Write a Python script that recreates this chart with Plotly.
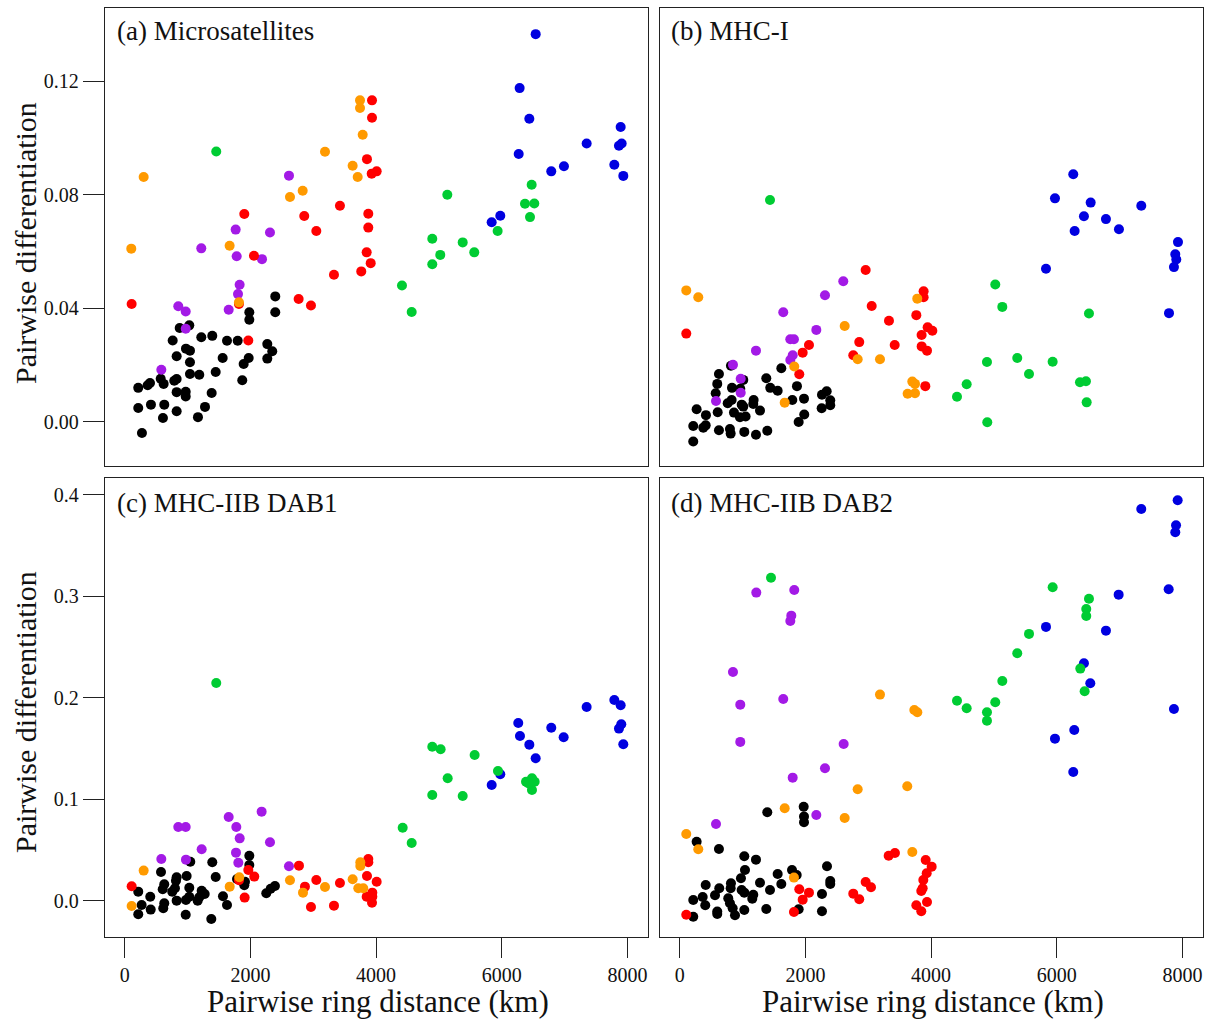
import plotly.graph_objects as go

# ---------------- Panel (a) Microsatellites ----------------
A_BLACK_KM = [2396, 2396, 1983, 1983, 1028, 875, 764, 1219, 1394, 1628, 1798, 2269, 2348, 2269, 975, 1039, 827, 1559, 1973, 1893, 1039, 1448, 1039, 1187, 573, 827, 789, 1871, 403, 366, 620, 216, 827, 971, 971, 1384, 418, 630, 216, 1278, 827, 609, 1166, 275]
A_BLACK_FST = [0.0442, 0.0386, 0.0386, 0.0360, 0.0340, 0.0331, 0.0287, 0.0298, 0.0303, 0.0286, 0.0286, 0.0274, 0.0249, 0.0223, 0.0258, 0.0251, 0.0231, 0.0225, 0.0225, 0.0204, 0.0210, 0.0176, 0.0169, 0.0166, 0.0152, 0.0151, 0.0145, 0.0147, 0.0137, 0.0129, 0.0134, 0.0120, 0.0105, 0.0106, 0.0090, 0.0102, 0.0061, 0.0061, 0.0049, 0.0053, 0.0038, 0.0014, 0.0017, -0.0039]
A_PURPLE_KM = [2614, 1766, 2312, 1219, 1782, 2185, 1829, 1803, 1655, 853, 971, 971, 583]
A_PURPLE_FST = [0.0867, 0.0677, 0.0667, 0.0611, 0.0583, 0.0573, 0.0483, 0.0450, 0.0395, 0.0407, 0.0389, 0.0328, 0.0184]
A_RED_KM = [3935, 3935, 3855, 4009, 3930, 3425, 3876, 2857, 1903, 3876, 3049, 2057, 3850, 3914, 3764, 3330, 111, 2768, 2964, 1818, 1967]
A_RED_FST = [0.1132, 0.1071, 0.0925, 0.0882, 0.0874, 0.0761, 0.0733, 0.0725, 0.0732, 0.0684, 0.0672, 0.0585, 0.0597, 0.0559, 0.0530, 0.0518, 0.0415, 0.0433, 0.0410, 0.0415, 0.0287]
A_ORANGE_KM = [3744, 3744, 3787, 3187, 3627, 3707, 302, 2832, 2630, 105, 1670, 1818]
A_ORANGE_FST = [0.1132, 0.1105, 0.1011, 0.0951, 0.0902, 0.0862, 0.0862, 0.0814, 0.0792, 0.0610, 0.0620, 0.0421]
A_BLUE_KM = [6539, 6284, 6438, 7891, 7350, 7907, 7864, 6269, 6989, 7790, 6787, 7933, 5976, 5839]
A_BLUE_FST = [0.1365, 0.1175, 0.1067, 0.1038, 0.0980, 0.0980, 0.0972, 0.0943, 0.0900, 0.0905, 0.0882, 0.0866, 0.0726, 0.0703]
A_GREEN_KM = [1457, 6475, 5133, 6369, 6517, 6449, 5934, 4894, 5378, 5021, 5562, 4894, 4412, 4566]
A_GREEN_FST = [0.0952, 0.0835, 0.0800, 0.0768, 0.0769, 0.0721, 0.0672, 0.0645, 0.0632, 0.0588, 0.0597, 0.0555, 0.0480, 0.0387]

# ---------------- Panel (b) MHC-I ----------------
B_BLACK_KM = [1617, 625, 816, 1378, 1012, 598, 1866, 832, 964, 1441, 1559, 573, 2339, 2264, 1978, 1792, 1177, 764, 827, 2396, 2396, 987, 1012, 1171, 270, 864, 605, 1278, 2259, 418, 959, 1049, 1982, 1893, 216, 376, 414, 625, 800, 811, 1028, 1214, 1394, 216]
B_BLACK_FST = [0.0189, 0.0169, 0.0198, 0.0154, 0.0148, 0.0134, 0.0126, 0.0120, 0.0117, 0.0120, 0.0110, 0.0101, 0.0108, 0.0096, 0.0082, 0.0077, 0.0077, 0.0066, 0.0077, 0.0076, 0.0059, 0.0061, 0.0054, 0.0063, 0.0045, 0.0033, 0.0034, 0.0040, 0.0048, 0.0024, 0.0017, 0.0019, 0.0026, 0.0000, -0.0014, -0.0020, -0.0012, -0.0029, -0.0025, -0.0041, -0.0035, -0.0045, -0.0031, -0.0069]
B_PURPLE_KM = [2603, 2312, 1648, 2174, 1760, 1818, 1214, 1798, 1760, 848, 971, 971, 578]
B_PURPLE_FST = [0.0495, 0.0446, 0.0386, 0.0324, 0.0291, 0.0291, 0.0251, 0.0235, 0.0218, 0.0201, 0.0152, 0.0103, 0.0074]
B_RED_KM = [2959, 3881, 3881, 3055, 3765, 3330, 3945, 4020, 3849, 105, 2857, 2057, 3421, 3850, 3935, 1957, 2762, 1903, 3908]
B_RED_FST = [0.0535, 0.0460, 0.0439, 0.0408, 0.0376, 0.0356, 0.0333, 0.0321, 0.0306, 0.0311, 0.0281, 0.0271, 0.0271, 0.0266, 0.0251, 0.0244, 0.0235, 0.0168, 0.0126]
B_ORANGE_KM = [105, 296, 3780, 2625, 2832, 3187, 1823, 3701, 3744, 3627, 3744, 1671]
B_ORANGE_FST = [0.0463, 0.0439, 0.0434, 0.0338, 0.0221, 0.0221, 0.0195, 0.0142, 0.0134, 0.0099, 0.0101, 0.0068]
B_BLUE_KM = [6262, 5971, 6539, 7344, 6432, 6782, 6989, 6284, 7928, 7885, 7901, 7864, 5828, 7785]
B_BLUE_FST = [0.0872, 0.0787, 0.0772, 0.0761, 0.0724, 0.0714, 0.0678, 0.0672, 0.0633, 0.0590, 0.0572, 0.0545, 0.0539, 0.0383]
B_GREEN_KM = [1437, 5021, 5133, 6512, 4889, 5371, 5934, 5558, 6369, 6464, 4566, 4412, 6475, 4894]
B_GREEN_FST = [0.0781, 0.0484, 0.0405, 0.0382, 0.0211, 0.0225, 0.0212, 0.0169, 0.0140, 0.0143, 0.0133, 0.0089, 0.0069, -0.0001]

# ---------------- Panel (c) MHC-IIB DAB1 ----------------
C_BLACK_KM = [1983, 1044, 1394, 1983, 578, 986, 827, 816, 1448, 1787, 1914, 630, 605, 1028, 1028, 800, 757, 216, 1225, 1273, 1187, 1903, 2391, 2323, 2253, 407, 270, 1564, 827, 975, 1161, 630, 614, 1628, 414, 216, 971, 1378]
C_BLACK_FST = [0.0446, 0.0387, 0.0381, 0.0355, 0.0286, 0.0246, 0.0233, 0.0200, 0.0236, 0.0217, 0.0190, 0.0165, 0.0115, 0.0131, 0.0042, 0.0125, 0.0092, 0.0092, 0.0101, 0.0069, 0.0036, 0.0155, 0.0148, 0.0121, 0.0076, 0.0042, -0.0039, 0.0046, 0.0003, 0.0010, 0.0003, -0.0023, -0.0072, -0.0039, -0.0085, -0.0131, -0.0135, -0.0177]
C_PURPLE_KM = [2179, 1655, 853, 971, 1776, 1830, 2312, 1225, 1771, 583, 975, 1808, 2614]
C_PURPLE_FST = [0.0880, 0.0828, 0.0729, 0.0729, 0.0729, 0.0617, 0.0578, 0.0509, 0.0476, 0.0414, 0.0407, 0.0377, 0.0342]
C_RED_KM = [3876, 3876, 2773, 1967, 2062, 3855, 4009, 3049, 3425, 111, 2868, 1818, 3940, 3850, 3940, 3935, 1909, 2964, 3330]
C_RED_FST = [0.0414, 0.0381, 0.0348, 0.0305, 0.0240, 0.0246, 0.0190, 0.0207, 0.0177, 0.0145, 0.0141, 0.0204, 0.0082, 0.0042, 0.0042, -0.0017, 0.0033, -0.0059, -0.0046]
C_ORANGE_KM = [302, 3749, 3749, 1823, 2630, 3627, 1671, 3187, 3717, 3796, 2837, 111]
C_ORANGE_FST = [0.0299, 0.0381, 0.0345, 0.0233, 0.0204, 0.0214, 0.0141, 0.0138, 0.0125, 0.0125, 0.0082, -0.0049]
C_BLUE_KM = [7790, 7891, 7350, 6262, 7901, 7864, 6787, 6289, 6984, 6438, 7933, 6539, 5976, 5839]
C_BLUE_FST = [0.1980, 0.1928, 0.1911, 0.1754, 0.1741, 0.1698, 0.1707, 0.1626, 0.1613, 0.1540, 0.1544, 0.1406, 0.1248, 0.1143]
C_GREEN_KM = [1457, 4894, 5027, 5568, 5939, 5139, 6385, 6480, 6523, 6480, 6421, 4894, 5378, 4423, 4566]
C_GREEN_FST = [0.2148, 0.1520, 0.1495, 0.1438, 0.1281, 0.1209, 0.1175, 0.1209, 0.1175, 0.1094, 0.1160, 0.1044, 0.1034, 0.0722, 0.0571]

# ---------------- Panel (d) MHC-IIB DAB2 ----------------
D_BLACK_KM = [1394, 1973, 1978, 1978, 270, 625, 1028, 1214, 1039, 1787, 1862, 2344, 1559, 975, 1278, 1617, 2396, 2396, 414, 630, 562, 816, 811, 986, 1028, 1171, 1155, 1437, 366, 407, 216, 773, 800, 843, 880, 598, 598, 1028, 1378, 2264, 2264, 1893, 216]
D_BLACK_FST = [0.0874, 0.0929, 0.0831, 0.0775, 0.0584, 0.0512, 0.0440, 0.0407, 0.0305, 0.0305, 0.0256, 0.0342, 0.0266, 0.0224, 0.0180, 0.0167, 0.0197, 0.0167, 0.0158, 0.0125, 0.0056, 0.0174, 0.0125, 0.0108, 0.0082, 0.0062, 0.0023, 0.0108, 0.0039, -0.0042, 0.0010, 0.0027, -0.0023, -0.0072, -0.0141, -0.0105, -0.0128, -0.0089, -0.0079, 0.0069, -0.0101, -0.0082, -0.0155]
D_PURPLE_KM = [1219, 1823, 1776, 1760, 848, 1648, 964, 964, 2609, 2312, 1798, 2174, 578]
D_PURPLE_FST = [0.3038, 0.3064, 0.2811, 0.2759, 0.2256, 0.1990, 0.1934, 0.1567, 0.1547, 0.1307, 0.1215, 0.0847, 0.0759]
D_RED_KM = [3325, 3425, 3914, 4009, 3930, 3876, 3866, 3844, 3935, 3765, 3844, 2959, 3044, 2762, 2857, 1903, 2057, 1957, 1818, 105]
D_RED_FST = [0.0446, 0.0473, 0.0404, 0.0338, 0.0273, 0.0207, 0.0125, 0.0099, -0.0010, -0.0042, -0.0101, 0.0187, 0.0135, 0.0072, 0.0017, 0.0115, 0.0082, 0.0013, -0.0108, -0.0135]
D_ORANGE_KM = [3187, 3733, 3781, 2832, 3621, 1671, 2625, 105, 296, 3701, 1818]
D_ORANGE_FST = [0.2033, 0.1882, 0.1859, 0.1100, 0.1130, 0.0913, 0.0818, 0.0660, 0.0509, 0.0483, 0.0230]
D_BLUE_KM = [7923, 7344, 7897, 7885, 7780, 6984, 5828, 6782, 6432, 6533, 7864, 6278, 5971, 6262]
D_BLUE_FST = [0.3948, 0.3862, 0.3701, 0.3632, 0.3071, 0.3018, 0.2700, 0.2663, 0.2342, 0.2145, 0.1892, 0.1685, 0.1599, 0.1271]
D_GREEN_KM = [1453, 5934, 6512, 6469, 6469, 5558, 5371, 6374, 5133, 6443, 4412, 4566, 5021, 4889, 4889]
D_GREEN_FST = [0.3185, 0.3091, 0.2978, 0.2877, 0.2808, 0.2631, 0.2440, 0.2289, 0.2167, 0.2066, 0.1973, 0.1899, 0.1958, 0.1859, 0.1776]

PANEL_LABELS = ["(a) Microsatellites", "(b) MHC-I", "(c) MHC-IIB DAB1", "(d) MHC-IIB DAB2"]
X_TICKS = [0, 2000, 4000, 6000, 8000]
Y_TICKS_TOP = [0.00, 0.04, 0.08, 0.12]
Y_TICKS_TOP_TEXT = ["0.00", "0.04", "0.08", "0.12"]
Y_TICKS_BOT = [0.0, 0.1, 0.2, 0.3, 0.4]
Y_TICKS_BOT_TEXT = ["0.0", "0.1", "0.2", "0.3", "0.4"]

COLORS = {
    "black": "#000000",
    "purple": "#A31AE6",
    "red": "#FF0000",
    "orange": "#FF9A00",
    "blue": "#0000E0",
    "green": "#00CC33",
}

panels = [
    ("x", "y", [("black", A_BLACK_KM, A_BLACK_FST), ("purple", A_PURPLE_KM, A_PURPLE_FST),
                ("red", A_RED_KM, A_RED_FST), ("orange", A_ORANGE_KM, A_ORANGE_FST),
                ("blue", A_BLUE_KM, A_BLUE_FST), ("green", A_GREEN_KM, A_GREEN_FST)]),
    ("x2", "y2", [("black", B_BLACK_KM, B_BLACK_FST), ("purple", B_PURPLE_KM, B_PURPLE_FST),
                  ("red", B_RED_KM, B_RED_FST), ("orange", B_ORANGE_KM, B_ORANGE_FST),
                  ("blue", B_BLUE_KM, B_BLUE_FST), ("green", B_GREEN_KM, B_GREEN_FST)]),
    ("x3", "y3", [("black", C_BLACK_KM, C_BLACK_FST), ("purple", C_PURPLE_KM, C_PURPLE_FST),
                  ("red", C_RED_KM, C_RED_FST), ("orange", C_ORANGE_KM, C_ORANGE_FST),
                  ("blue", C_BLUE_KM, C_BLUE_FST), ("green", C_GREEN_KM, C_GREEN_FST)]),
    ("x4", "y4", [("black", D_BLACK_KM, D_BLACK_FST), ("purple", D_PURPLE_KM, D_PURPLE_FST),
                  ("red", D_RED_KM, D_RED_FST), ("orange", D_ORANGE_KM, D_ORANGE_FST),
                  ("blue", D_BLUE_KM, D_BLUE_FST), ("green", D_GREEN_KM, D_GREEN_FST)]),
]

fig = go.Figure()
for xa, ya, groups in panels:
    for cname, xs, ys in groups:
        fig.add_trace(go.Scatter(
            x=xs, y=ys, mode="markers", xaxis=xa, yaxis=ya, showlegend=False,
            marker=dict(size=10, color=COLORS[cname], line=dict(width=0)),
            hoverinfo="x+y",
        ))

W, H = 1212, 1019
FONT = "Liberation Serif"
LINE = "#222222"

def px_x(a, b):
    return [a / W, b / W]

def px_y(top, bottom):
    return [1 - bottom / H, 1 - top / H]

X_RANGE = [-313, 8326]
Y_RANGE_TOP = [-0.0155, 0.1457]
Y_RANGE_BOT = [-0.0355, 0.4167]

base = dict(showgrid=False, zeroline=False, showline=True, mirror=True,
            linecolor=LINE, linewidth=1.3, tickcolor=LINE, tickwidth=1.3,
            tickfont=dict(family=FONT, size=20, color="#111111"))

def xaxis(domain, show, anchor):
    d = dict(base, domain=domain, range=X_RANGE, anchor=anchor)
    if show:
        d.update(ticks="outside", ticklen=20, tickvals=X_TICKS, showticklabels=True)
    else:
        d.update(ticks="", showticklabels=False)
    return d

def yaxis(domain, show, anchor, rng, tv, tt):
    d = dict(base, domain=domain, range=rng, anchor=anchor)
    if show:
        d.update(ticks="outside", ticklen=21, tickvals=tv, ticktext=tt, showticklabels=True)
    else:
        d.update(ticks="", showticklabels=False)
    return d

left = px_x(105, 648)
right = px_x(660, 1203)
top = px_y(8, 466)
bot = px_y(478, 937)

fig.update_layout(
    width=W, height=H,
    margin=dict(l=0, r=0, t=0, b=0),
    paper_bgcolor="white", plot_bgcolor="white",
    font=dict(family=FONT, color="#111111"),
    xaxis=xaxis(left, False, "y"),
    yaxis=yaxis(top, True, "x", Y_RANGE_TOP, Y_TICKS_TOP, Y_TICKS_TOP_TEXT),
    xaxis2=xaxis(right, False, "y2"),
    yaxis2=yaxis(top, False, "x2", Y_RANGE_TOP, Y_TICKS_TOP, Y_TICKS_TOP_TEXT),
    xaxis3=xaxis(left, True, "y3"),
    yaxis3=yaxis(bot, True, "x3", Y_RANGE_BOT, Y_TICKS_BOT, Y_TICKS_BOT_TEXT),
    xaxis4=xaxis(right, True, "y4"),
    yaxis4=yaxis(bot, False, "x4", Y_RANGE_BOT, Y_TICKS_BOT, Y_TICKS_BOT_TEXT),
)

ann = []
label_pos = [(115, 31), (669, 31), (115, 503), (669, 503)]
for text, (lx, ly) in zip(PANEL_LABELS, label_pos):
    ann.append(dict(text=text, x=lx / W, y=1 - ly / H, xref="paper", yref="paper",
                    xanchor="left", yanchor="middle", showarrow=False,
                    font=dict(family=FONT, size=27, color="#111111")))
for cy in (243, 712):
    ann.append(dict(text="Pairwise differentiation", x=25 / W, y=1 - cy / H,
                    xref="paper", yref="paper", textangle=-90, xanchor="center",
                    yanchor="middle", showarrow=False,
                    font=dict(family=FONT, size=30, color="#111111")))
for cx in (378, 933):
    ann.append(dict(text="Pairwise ring distance (km)", x=cx / W, y=1 - 1001 / H,
                    xref="paper", yref="paper", xanchor="center", yanchor="middle",
                    showarrow=False, font=dict(family=FONT, size=31, color="#111111")))
fig.update_layout(annotations=ann)

fig.write_html(
    "out.html",
    config={"displayModeBar": False},
    post_script="document.body.style.margin='0';document.body.style.padding='0';document.body.style.overflow='hidden';",
)
